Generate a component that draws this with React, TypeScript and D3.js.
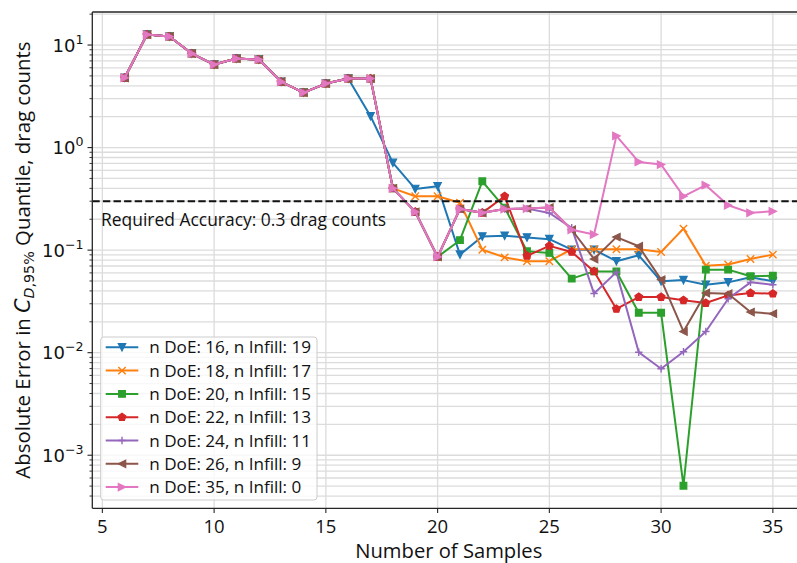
import React from "react";
import * as d3 from "d3";

// Number of samples on the x axis
const samples = [6, 7, 8, 9, 10, 11, 12, 13, 14, 15, 16, 17, 18, 19, 20, 21, 22, 23, 24, 25, 26, 27, 28, 29, 30, 31, 32, 33, 34, 35];

// Absolute error per run (drag counts); each run shares its DoE prefix with the pure-DoE run
const doe16 = [4.79, 12.65, 12.1, 8.26, 6.45, 7.38, 7.22, 4.38, 3.44, 4.21, 4.71, 2.02, 0.71, 0.395, 0.42, 0.0904, 0.136, 0.138, 0.133, 0.128, 0.101, 0.101, 0.078, 0.089, 0.0497, 0.051, 0.046, 0.0485, 0.0543, 0.0497];
const doe18 = [4.79, 12.65, 12.1, 8.26, 6.45, 7.38, 7.22, 4.38, 3.44, 4.21, 4.71, 4.71, 0.40, 0.335, 0.335, 0.29, 0.101, 0.085, 0.078, 0.078, 0.102, 0.102, 0.102, 0.102, 0.096, 0.162, 0.0706, 0.0724, 0.082, 0.0904];
const doe20 = [4.79, 12.65, 12.1, 8.26, 6.45, 7.38, 7.22, 4.38, 3.44, 4.21, 4.71, 4.71, 0.40, 0.236, 0.0859, 0.125, 0.469, 0.26, 0.0975, 0.094, 0.0527, 0.062, 0.062, 0.0245, 0.0245, 0.000504, 0.0645, 0.0645, 0.0556, 0.0563];
const doe22 = [4.79, 12.65, 12.1, 8.26, 6.45, 7.38, 7.22, 4.38, 3.44, 4.21, 4.71, 4.71, 0.40, 0.236, 0.0859, 0.252, 0.231, 0.335, 0.088, 0.110, 0.096, 0.062, 0.0267, 0.0349, 0.0349, 0.0324, 0.0305, 0.0362, 0.0382, 0.0376];
const doe24 = [4.79, 12.65, 12.1, 8.26, 6.45, 7.38, 7.22, 4.38, 3.44, 4.21, 4.71, 4.71, 0.40, 0.236, 0.0859, 0.252, 0.231, 0.252, 0.254, 0.23, 0.165, 0.0377, 0.061, 0.0101, 0.00698, 0.0102, 0.0161, 0.0336, 0.0485, 0.046];
const doe26 = [4.79, 12.65, 12.1, 8.26, 6.45, 7.38, 7.22, 4.38, 3.44, 4.21, 4.71, 4.71, 0.40, 0.236, 0.0859, 0.252, 0.231, 0.252, 0.254, 0.26, 0.158, 0.082, 0.134, 0.109, 0.0515, 0.0161, 0.0382, 0.0376, 0.0249, 0.024];
const doe35 = [4.79, 12.65, 12.1, 8.26, 6.45, 7.38, 7.22, 4.38, 3.44, 4.21, 4.71, 4.71, 0.40, 0.236, 0.0859, 0.252, 0.231, 0.252, 0.254, 0.26, 0.158, 0.142, 1.3, 0.725, 0.683, 0.335, 0.43, 0.274, 0.231, 0.239];

const seriesLabels = [
  "n DoE: 16, n Infill: 19",
  "n DoE: 18, n Infill: 17",
  "n DoE: 20, n Infill: 15",
  "n DoE: 22, n Infill: 13",
  "n DoE: 24, n Infill: 11",
  "n DoE: 26, n Infill: 9",
  "n DoE: 35, n Infill: 0",
];
const seriesValues = [doe16, doe18, doe20, doe22, doe24, doe26, doe35];
const colors = ["#1f77b4", "#ff7f0e", "#2ca02c", "#d62728", "#9467bd", "#8c564b", "#e377c2"];
const markers = ["v", "x", "s", "p", "+", "<", ">"];

const requiredAccuracy = 0.3;
const xTicks = [5, 10, 15, 20, 25, 30, 35];

const W = 797;
const H = 563;
const left = 92.3;
const top = 12;
const bottom = 508.3;
const pxPerSample = 22.35;

const SANS = "'Open Sans', 'DejaVu Sans', sans-serif";
const MATH = "'DejaVu Sans', sans-serif";

function markerPath(type: string, s: number): string {
  const h = s / 2;
  switch (type) {
    case "v":
      return `M0,${h}L${-h},${-h}L${h},${-h}Z`;
    case "<":
      return `M${-h},0L${h},${-h}L${h},${h}Z`;
    case ">":
      return `M${h},0L${-h},${-h}L${-h},${h}Z`;
    case "s": {
      const a = h * 0.9;
      return `M${-a},${-a}L${a},${-a}L${a},${a}L${-a},${a}Z`;
    }
    case "p": {
      const r = h * 1.1;
      const pts = d3.range(5).map((i) => {
        const ang = -Math.PI / 2 + (i * 2 * Math.PI) / 5;
        return `${r * Math.cos(ang)},${r * Math.sin(ang)}`;
      });
      return `M${pts.join("L")}Z`;
    }
    case "x":
      return `M${-h},${-h}L${h},${h}M${-h},${h}L${h},${-h}`;
    case "+":
      return `M${-h},0L${h},0M0,${-h}L0,${h}`;
    default:
      return "";
  }
}

function Marker({ type, color, x, y }: { type: string; color: string; x: number; y: number }) {
  const open = type === "x" || type === "+";
  return (
    <path
      d={markerPath(type, 7.4)}
      transform={`translate(${x},${y})`}
      fill={open ? "none" : color}
      stroke={color}
      strokeWidth={open ? 1.4 : 1.2}
      strokeLinejoin="miter"
    />
  );
}

export default function App() {
  // x: 5% margins around the sample range
  const xMin = d3.min(samples)!;
  const xMax = d3.max(samples)!;
  const xPad = (xMax - xMin) * 0.05;
  const x0 = xMin - xPad;
  const x1 = xMax + xPad;
  const x = d3.scaleLinear().domain([x0, x1]).range([left, left + (x1 - x0) * pxPerSample]);

  // y: log scale with 5% margins in log space
  const all = seriesValues.flat();
  const lMin = Math.log10(d3.min(all)!);
  const lMax = Math.log10(d3.max(all)!);
  const lPad = (lMax - lMin) * 0.05;
  const y = d3.scaleLog().domain([10 ** (lMin - lPad), 10 ** (lMax + lPad)]).range([bottom, top]);

  const right = x(x1);
  const plotW = right - left;

  const majorY = [-3, -2, -1, 0, 1];
  const minorY: number[] = [];
  for (let e = -4; e <= 1; e++) {
    for (let m = 2; m <= 9; m++) {
      const v = m * 10 ** e;
      const yy = y(v);
      if (yy >= top && yy <= bottom) minorY.push(v);
    }
  }

  const line = d3
    .line<number>()
    .x((_, i) => x(samples[i]))
    .y((d) => y(d));

  const gridColor = "#dcdcdc";
  const spine = "#262626";

  const legX = 100.7;
  const legY = 337;
  const legW = 216.3;
  const legH = 163;
  const rowY0 = 347.3;
  const rowDy = 23.3;

  return (
    <div style={{ position: "absolute", left: 0, top: 0, width: W, height: H, overflow: "hidden", background: "#fff" }}>
      <svg width={W} height={H} style={{ display: "block" }}>
        <defs>
          <clipPath id="plot-area">
            <rect x={left} y={top} width={plotW} height={bottom - top} />
          </clipPath>
        </defs>
        <rect x={0} y={0} width={W} height={H} fill="#fff" />

        {/* grid */}
        <g stroke={gridColor} strokeWidth={1.3}>
          {minorY.map((v) => (
            <line key={`gm${v}`} x1={left} x2={right} y1={y(v)} y2={y(v)} />
          ))}
          {majorY.map((e) => (
            <line key={`gM${e}`} x1={left} x2={right} y1={y(10 ** e)} y2={y(10 ** e)} />
          ))}
          {xTicks.map((t) => (
            <line key={`gx${t}`} x1={x(t)} x2={x(t)} y1={top} y2={bottom} />
          ))}
        </g>

        {/* series */}
        <g clipPath="url(#plot-area)">
          {seriesValues.map((vals, si) => (
            <g key={`s${si}`}>
              <path d={line(vals)!} fill="none" stroke={colors[si]} strokeWidth={2} strokeLinejoin="round" />
              {vals.map((v, i) => (
                <Marker key={i} type={markers[si]} color={colors[si]} x={x(samples[i])} y={y(v)} />
              ))}
            </g>
          ))}
          <line
            x1={left}
            x2={right}
            y1={y(requiredAccuracy)}
            y2={y(requiredAccuracy)}
            stroke="#111"
            strokeWidth={2}
            strokeDasharray="7.4,3.2"
          />
        </g>

        <text x={101} y={225.5} fontFamily={SANS} fontSize={17.45} fill="#111">
          Required Accuracy: 0.3 drag counts
        </text>

        {/* spines */}
        <g stroke={spine} strokeWidth={1.3}>
          <line x1={left} x2={left} y1={top} y2={bottom} />
          <line x1={left} x2={right} y1={top} y2={top} />
          <line x1={left} x2={right} y1={bottom} y2={bottom} />
          <line x1={right} x2={right} y1={top} y2={bottom} />
        </g>

        {/* y ticks */}
        <g stroke={spine} strokeWidth={1.1}>
          {majorY.map((e) => (
            <line key={`ty${e}`} x1={left - 4.8} x2={left} y1={y(10 ** e)} y2={y(10 ** e)} />
          ))}
          {minorY.map((v) => (
            <line key={`tmy${v}`} x1={left - 2.8} x2={left} y1={y(v)} y2={y(v)} strokeWidth={0.9} />
          ))}
        </g>
        {majorY.map((e) => (
          <text
            key={`ly${e}`}
            x={83.5}
            y={y(10 ** e) + 6.5}
            textAnchor="end"
            fontFamily={MATH}
            fontSize={18}
            fill="#111"
          >
            10
            <tspan fontSize={12.6} dy={-8}>
              {e < 0 ? `\u2212${-e}` : `${e}`}
            </tspan>
          </text>
        ))}

        {/* x ticks */}
        <g stroke={spine} strokeWidth={1.1}>
          {xTicks.map((t) => (
            <line key={`tx${t}`} x1={x(t)} x2={x(t)} y1={bottom} y2={bottom + 4.8} />
          ))}
        </g>
        {xTicks.map((t) => (
          <text key={`lx${t}`} x={x(t)} y={533} textAnchor="middle" fontFamily={SANS} fontSize={18.5} fill="#111">
            {t}
          </text>
        ))}

        {/* axis labels */}
        <text x={(left + right) / 2} y={557.5} textAnchor="middle" fontFamily={SANS} fontSize={20.2} fill="#111">
          Number of Samples
        </text>
        <text
          transform={`translate(30,${(top + bottom) / 2}) rotate(-90)`}
          textAnchor="middle"
          fontFamily={SANS}
          fontSize={20.4}
          fill="#111"
        >
          Absolute Error in{" "}
          <tspan fontFamily={MATH} fontStyle="italic">
            C
          </tspan>
          <tspan fontFamily={MATH} fontSize={14.3} fontStyle="italic" dy={4.3}>
            D
          </tspan>
          <tspan fontFamily={MATH} fontSize={14.3}>
            ,95%
          </tspan>
          <tspan dy={-4.3}> Quantile, drag counts</tspan>
        </text>

        {/* legend */}
        <rect
          x={legX}
          y={legY}
          width={legW}
          height={legH}
          rx={3}
          fill="#fff"
          fillOpacity={0.8}
          stroke="#cccccc"
          strokeWidth={1}
        />
        {seriesLabels.map((lab, i) => {
          const cy = rowY0 + i * rowDy;
          return (
            <g key={`leg${i}`}>
              <line x1={105.7} x2={138.3} y1={cy} y2={cy} stroke={colors[i]} strokeWidth={2} />
              <Marker type={markers[i]} color={colors[i]} x={122} y={cy} />
              <text x={149.3} y={cy + 6} fontFamily={SANS} fontSize={17.1} fill="#111">
                {lab}
              </text>
            </g>
          );
        })}
      </svg>
    </div>
  );
}
